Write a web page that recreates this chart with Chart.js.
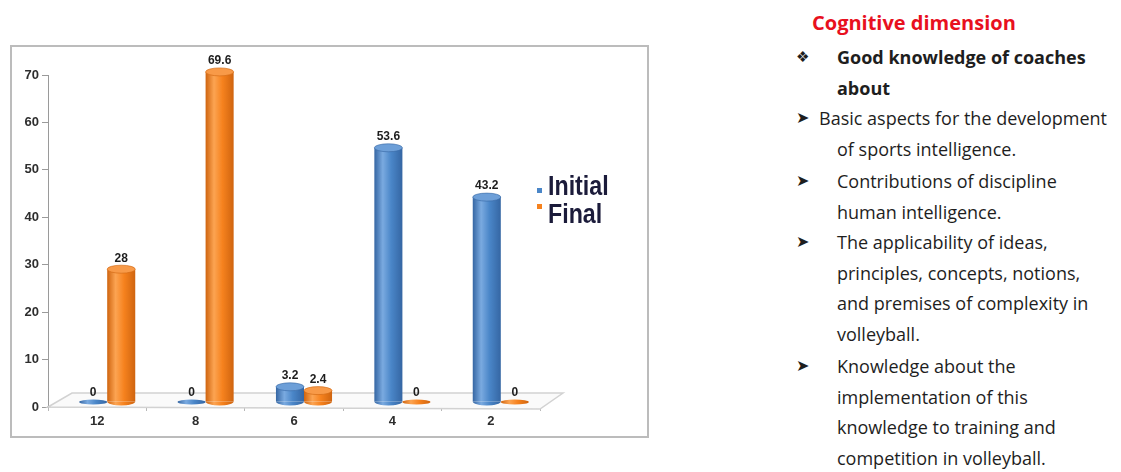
<!DOCTYPE html>
<html>
<head>
<meta charset="utf-8">
<title>Cognitive dimension</title>
<script src="https://cdn.jsdelivr.net/npm/chart.js@4.4.1/dist/chart.umd.min.js"></script>
<style>
  html, body { margin: 0; padding: 0; background: #fff; }
  body { width: 1121px; height: 472px; position: relative; overflow: hidden; }
  #chart-box {
    position: absolute; left: 10px; top: 45px;
    width: 635px; height: 389px;
    border: 2px solid #bcbcbc;
  }
  #chart-box canvas { display: block; }
  .notes {
    position: absolute; left: 796px; top: 42px; width: 325px;
    font-family: 'Open Sans', sans-serif; font-size: 18px;
    line-height: 30.5px; color: #1e1e1e; white-space: nowrap;
  }
  .notes h3 {
    position: absolute; left: 16px; top: -34px; margin: 0;
    font-size: 20px; font-weight: bold; color: #e8101e;
  }
  .notes .item { position: relative; padding-left: 41px; }
  .notes .item .mk {
    position: absolute; left: 0; top: 0;
    font-family: 'DejaVu Sans', sans-serif; font-size: 16px;
  }
  .notes .item .mk.dia { font-size: 15px; }
  .notes .bold { font-weight: bold; }
  .notes .first-in { text-indent: -18px; }
  .notes .gap { margin-top: 2px; }
</style>
</head>
<body>

<div id="chart-box">
  <canvas id="barChart" width="635" height="389"></canvas>
</div>

<div class="notes">
  <h3>Cognitive dimension</h3>
  <div class="item bold"><span class="mk dia">❖</span>Good knowledge of coaches<br>about</div>
  <div class="item first-in"><span class="mk" style="text-indent:0">➤</span>Basic aspects for the development<br>of sports intelligence.</div>
  <div class="item gap"><span class="mk">➤</span>Contributions of discipline<br>human intelligence.</div>
  <div class="item"><span class="mk">➤</span>The applicability of ideas,<br>principles, concepts, notions,<br>and premises of complexity in<br>volleyball.</div>
  <div class="item gap"><span class="mk">➤</span>Knowledge about the<br>implementation of this<br>knowledge to training and<br>competition in volleyball.</div>
</div>

<script>
// chart data
var categories = ['12', '8', '6', '4', '2'];
var initialValues = [0, 0, 3.2, 53.6, 43.2];
var finalValues = [28, 69.6, 2.4, 0, 0];
var seriesNames = ['Initial', 'Final'];
var yMax = 70;
var yStep = 10;

// look of the pseudo 3d columns
var CAT_PCT = 0.57;
var DEPTH_X = 10, DEPTH_Y = -5;      // bars stand a bit behind the front edge
var FLOOR_X = 24, FLOOR_Y = -14;     // depth of the floor slab
var CAP_RY = 4;

var palette = [
  { base: '#4a86c8', light: '#7aaae0', dark: '#3566a3', top: '#6d9fd8' },
  { base: '#f6821e', light: '#fca452', dark: '#cf640f', top: '#f89a48' }
];

function makeGradient(ctx, left, width, c) {
  var g = ctx.createLinearGradient(left, 0, left + width, 0);
  g.addColorStop(0, c.dark);
  g.addColorStop(0.3, c.light);
  g.addColorStop(0.6, c.base);
  g.addColorStop(1, c.dark);
  return g;
}

function cylinderFill(context) {
  var chart = context.chart;
  var c = palette[context.datasetIndex];
  var xScale = chart.scales.x;
  if (!xScale || context.dataIndex === undefined) return c.base;
  var center = xScale.getPixelForValue(context.dataIndex);
  var bw = xScale.width / categories.length * CAT_PCT / 2;
  var left = context.datasetIndex === 0 ? center - bw : center;
  if (!isFinite(left) || !isFinite(bw) || bw <= 0) return c.base;
  return makeGradient(chart.ctx, left, bw, c);
}

// floor slab, shifted bars, caps and value labels
var columnPlugin = {
  id: 'columns3d',
  beforeDatasetsDraw: function (chart) {
    var ctx = chart.ctx, a = chart.chartArea;
    ctx.save();
    ctx.beginPath();
    ctx.moveTo(a.left, a.bottom);
    ctx.lineTo(a.left + FLOOR_X, a.bottom + FLOOR_Y);
    ctx.lineTo(a.right + FLOOR_X - 1, a.bottom + FLOOR_Y);
    ctx.lineTo(a.right, a.bottom + 2);
    ctx.closePath();
    ctx.fillStyle = '#fafafa';
    ctx.fill();
    ctx.strokeStyle = '#d2d2d2';
    ctx.lineWidth = 1.5;
    ctx.stroke();
    ctx.restore();

    ctx.save();
    ctx.translate(DEPTH_X, DEPTH_Y);
  },
  afterDatasetsDraw: function (chart) {
    var ctx = chart.ctx;
    chart.data.datasets.forEach(function (ds, di) {
      var c = palette[di];
      var meta = chart.getDatasetMeta(di);
      meta.data.forEach(function (el, i) {
        var x = el.x, top = el.y, base = el.base, rx = el.width / 2;
        if (!isFinite(x) || !isFinite(rx)) return;
        var g = makeGradient(ctx, x - rx, rx * 2, c);

        if (ds.data[i] > 0) {
          // rounded bottom
          ctx.beginPath();
          ctx.ellipse(x, base, rx, CAP_RY, 0, 0, Math.PI);
          ctx.fillStyle = g;
          ctx.fill();
          // top cap
          ctx.beginPath();
          ctx.ellipse(x, top, rx, CAP_RY, 0, 0, Math.PI * 2);
          ctx.fillStyle = c.top;
          ctx.fill();
          ctx.strokeStyle = c.dark;
          ctx.lineWidth = 0.6;
          ctx.stroke();
        } else {
          // empty value: flat disc on the floor
          ctx.beginPath();
          ctx.ellipse(x, base, rx, 2.5, 0, 0, Math.PI * 2);
          ctx.fillStyle = g;
          ctx.fill();
        }

        ctx.fillStyle = '#1d1d1d';
        ctx.font = 'bold 12px "Liberation Sans", Arial, sans-serif';
        ctx.textAlign = 'center';
        ctx.textBaseline = 'bottom';
        var lbl = String(ds.data[i]);
        ctx.fillText(lbl, x, (ds.data[i] > 0 ? top - CAP_RY : base - 2) - 1);
      });
    });
    ctx.restore();
  },
  afterDraw: function (chart) {
    // legend on the right
    var ctx = chart.ctx;
    var lx = 525, ly = [148, 176];
    chart.data.datasets.forEach(function (ds, di) {
      ctx.save();
      ctx.fillStyle = palette[di].base;
      ctx.fillRect(lx, ly[di] - (di === 0 ? 7 : 19), 5, 5);
      ctx.translate(lx + 11, ly[di]);
      ctx.scale(0.86, 1);
      ctx.fillStyle = '#1b1b3a';
      ctx.font = 'bold 27px "Liberation Sans", Arial, sans-serif';
      ctx.textAlign = 'left';
      ctx.textBaseline = 'alphabetic';
      ctx.fillText(ds.label, 0, 0);
      ctx.restore();
    });
  }
};

var ctx = document.getElementById('barChart');

new Chart(ctx, {
  type: 'bar',
  data: {
    labels: categories,
    datasets: [
      { label: seriesNames[0], data: initialValues, backgroundColor: cylinderFill, borderWidth: 0 },
      { label: seriesNames[1], data: finalValues, backgroundColor: cylinderFill, borderWidth: 0 }
    ]
  },
  options: {
    responsive: false,
    animation: false,
    events: [],
    categoryPercentage: CAT_PCT,
    barPercentage: 1.0,
    clip: false,
    layout: { padding: { top: 28, right: 107, bottom: 0, left: 0 } },
    plugins: {
      legend: { display: false },
      tooltip: { enabled: false }
    },
    scales: {
      x: {
        afterFit: function (scale) { scale.height = 29; },
        grid: { drawOnChartArea: false, tickLength: 4, color: '#b8b8b8', offset: true },
        border: { color: '#c8c8c8', width: 1.5 },
        ticks: {
          color: '#2e2e2e',
          padding: 3,
          font: { family: '"Liberation Sans", Arial, sans-serif', size: 13, weight: 'bold' }
        }
      },
      y: {
        min: 0,
        max: yMax,
        afterFit: function (scale) { scale.width = 36; },
        grid: { drawOnChartArea: false, tickLength: 6, color: '#9a9a9a' },
        border: { color: '#9a9a9a' },
        ticks: {
          stepSize: yStep,
          color: '#2e2e2e',
          padding: 3,
          font: { family: '"Liberation Sans", Arial, sans-serif', size: 13, weight: 'bold' }
        }
      }
    }
  },
  plugins: [columnPlugin]
});
</script>
</body>
</html>
